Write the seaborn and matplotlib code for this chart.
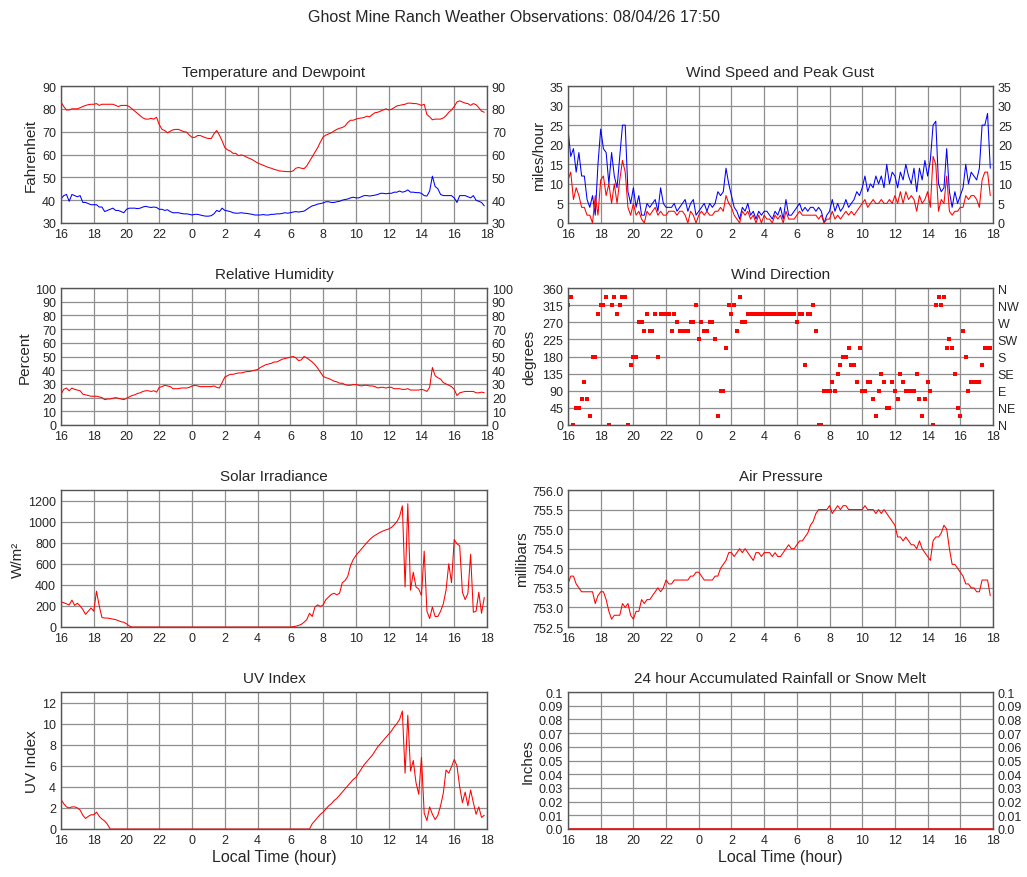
import matplotlib
matplotlib.use('Agg')
import matplotlib.pyplot as plt
import numpy as np
import seaborn as sns

sns.set_theme(style='white')
plt.rcParams['font.family'] = ['Liberation Sans', 'DejaVu Sans']

# 10 minute samples, hours since 16:00
hours = np.arange(156) / 6.0

temp = [
    83, 81, 79.5, 79.5, 80, 80,          # 16
    80, 80.5, 81, 81.5, 81.8, 82,        # 17
    82, 82.3, 81.5, 82, 82, 82,          # 18
    82, 82, 81.5, 81, 81.5, 81.5,        # 19
    81.5, 81, 80, 79, 78, 77,            # 20
    76, 75.5, 75.5, 75.8, 75.5, 76.3,    # 21
    73, 71, 70.5, 69.5, 70.2, 70.8,      # 22
    71, 71, 70.5, 70, 69.8, 68.5,        # 23
    67.5, 67.5, 68.3, 68.3, 67.8, 67.3,  # 0
    67, 67, 69, 70.5, 68.5, 66,          # 1
    63, 62, 61.5, 60.5, 60.5, 59.5,      # 2
    59.8, 59.5, 58.8, 58.3, 57.8, 57,    # 3
    56.3, 55.8, 55.3, 54.8, 54.3, 54,    # 4
    53.5, 53.2, 52.8, 52.7, 52.6, 52.5,  # 5
    52.5, 52.8, 54, 54.3, 54, 53.8,      # 6
    55, 57, 59, 61, 63, 65.5,            # 7
    67.7, 68.5, 69, 69.5, 70.3, 71,      # 8
    71.5, 71.8, 72.5, 74, 75, 75,        # 9
    75.5, 75.8, 76, 76.2, 76.8, 76.5,    # 10
    77.5, 78.3, 78.5, 79, 79.5, 80,      # 11
    79.5, 79.8, 80.5, 81.3, 81.5, 81.8,  # 12
    82, 82.5, 82.5, 82.3, 82.3, 82,      # 13
    81.5, 82, 77.5, 76.5, 75.2, 75.5,    # 14
    75.5, 75.5, 76, 77, 78.5, 79.5,      # 15
    81, 83, 83.5, 83, 82.5, 82.3,        # 16
    81.5, 82.3, 81.8, 80.5, 79, 78.5,    # 17
]

dewpoint = [
    40.5, 42, 42.5, 39.5, 42.5, 42,      # 16
    41.5, 42, 39, 39, 38.5, 38,          # 17
    38, 38, 37, 37, 35, 35.5,            # 18
    36, 36.5, 35.5, 35.5, 35, 34.5,      # 19
    36, 36.5, 36.5, 36.5, 36.3, 36.5,    # 20
    37, 37.3, 37, 36.8, 37, 36.8,        # 21
    36, 36, 35.5, 35.8, 35, 34.5,        # 22
    34.5, 34.5, 34.2, 34, 34, 33.8,      # 23
    33.5, 33.8, 33.8, 33.5, 33.2, 33,    # 0
    33, 33.2, 34, 35.5, 35, 36.5,        # 1
    35.5, 35.3, 35, 34.5, 34.3, 34.3,    # 2
    34.5, 34.3, 34.2, 34, 33.8, 33.5,    # 3
    33.5, 33.5, 33.7, 33.5, 33.5, 33.8,  # 4
    33.8, 34, 34, 34.2, 34.5, 34.3,      # 5
    34.5, 34.8, 35, 34.8, 35, 35.2,      # 6
    36, 36.8, 37.5, 37.8, 38.3, 38.5,    # 7
    38.8, 39.3, 39.3, 39, 39, 39.3,      # 8
    39.5, 40, 40.3, 40.5, 41, 41.3,      # 9
    41, 41, 41.5, 42, 42, 41.8,          # 10
    42, 42.2, 42.5, 43, 43, 42.8,        # 11
    43, 43, 43.5, 43.5, 44, 43.5,        # 12
    43.8, 44.5, 43.5, 43.5, 43.3, 43.3,  # 13
    43, 42, 41.8, 44, 50.5, 46,          # 14
    45, 42.5, 42, 42, 42, 42,            # 15
    41, 39, 42, 42, 42, 41.5,            # 16
    41, 42, 40, 39.5, 39, 37.5,          # 17
]

gust = [
    24, 17, 19, 13, 18, 12,   # 16
    12, 6, 4, 7, 2, 15,       # 17
    24, 19, 18, 10, 18, 12,   # 18
    9, 17, 25, 25, 8, 5,      # 19
    9, 4, 7, 2, 2, 5,         # 20
    4, 5, 6, 3, 9, 5,         # 21
    4, 4, 4, 5, 3, 4,         # 22
    5, 6, 3, 5, 6, 2,         # 23
    3, 4, 5, 3, 5, 4,         # 0
    5, 8, 7, 8, 14, 10,       # 1
    7, 4, 3, 1, 4, 3,         # 2
    5, 2, 3, 1, 3, 2,         # 3
    3, 3, 2, 1, 3, 2,         # 4
    4, 1, 6, 2, 2, 3,         # 5
    4, 5, 3, 4, 3, 4,         # 6
    4, 3, 4, 3, 0, 2,         # 7
    3, 6, 3, 5, 3, 4,         # 8
    6, 4, 5, 6, 8, 7,         # 9
    9, 12, 8, 10, 9, 12,      # 10
    10, 12, 9, 15, 10, 13,    # 11
    12, 9, 13, 11, 15, 12,    # 12
    10, 14, 8, 14, 11, 16,    # 13
    12, 16, 25, 26, 10, 8,    # 14
    9, 19, 8, 4, 8, 5,        # 15
    7, 9, 15, 10, 13, 12,     # 16
    11, 14, 25, 25, 28, 14,   # 17
]

speed = [
    11, 13, 6, 9, 7, 4,       # 16
    4, 2, 2, 0, 7, 2,         # 17
    11, 12, 7, 10, 5, 10,     # 18
    5, 11, 16, 13, 4, 2,      # 19
    5, 2, 3, 1, 0, 3,         # 20
    2, 3, 4, 2, 3, 2,         # 21
    2, 3, 3, 3, 2, 3,         # 22
    3, 2, 0, 3, 2, 0,         # 23
    2, 3, 2, 3, 2, 2,         # 0
    3, 3, 4, 3, 7, 5,         # 1
    4, 2, 1, 0, 3, 2,         # 2
    3, 1, 2, 0, 2, 0,         # 3
    2, 1, 1, 0, 2, 1,         # 4
    2, 0, 3, 1, 1, 1,         # 5
    2, 3, 2, 2, 2, 2,         # 6
    2, 2, 1, 2, 0, 1,         # 7
    1, 3, 1, 2, 1, 2,         # 8
    3, 2, 3, 2, 3, 4,         # 9
    5, 6, 4, 5, 6, 5,         # 10
    5, 6, 5, 5, 6, 5,         # 11
    7, 5, 8, 5, 8, 6,         # 12
    7, 6, 3, 7, 5, 6,         # 13
    8, 4, 17, 15, 3, 6,       # 14
    5, 12, 3, 2, 3, 3,        # 15
    4, 4, 7, 6, 7, 7,         # 16
    6, 4, 11, 13, 13, 7,      # 17
]

humidity = [
    22.5, 26, 27, 25, 27, 26,            # 16
    25.5, 25, 22.5, 22, 21.5, 21,        # 17
    21, 21, 20.5, 20, 18.5, 19,          # 18
    19, 19.5, 20, 19.5, 19, 18.5,        # 19
    19.5, 20.5, 21.5, 22, 23, 23.5,      # 20
    24.5, 25, 25, 24.5, 25, 24,          # 21
    27.5, 28, 29, 28.5, 28, 26.5,        # 22
    26.5, 26.5, 27, 27, 27, 27.5,        # 23
    28.5, 29, 28.5, 28, 28, 28,          # 0
    28, 28, 28.5, 27.5, 27, 31,          # 1
    35, 36, 37, 37, 37.5, 38,            # 2
    38, 38.5, 39, 39, 39.5, 40,          # 3
    40.5, 42, 43, 44, 44.5, 45,          # 4
    46, 46, 47, 48, 48.5, 49,            # 5
    49.5, 50, 49, 47, 47.5, 50,          # 6
    49, 47.5, 46, 44, 41.5, 38.5,        # 7
    35.5, 34.5, 34, 33, 32, 31.5,        # 8
    30.5, 30.5, 29.5, 29, 29, 29.5,      # 9
    29.5, 29, 28.5, 29, 29, 28.5,        # 10
    28.5, 28, 27, 27.5, 27.5, 27,        # 11
    27.5, 27.5, 26.5, 26.5, 26.5, 26,    # 12
    26, 26.5, 25.5, 25.5, 25.5, 25.5,    # 13
    26, 25.5, 24.5, 27.5, 42, 36,        # 14
    34.5, 33.5, 31, 30, 29, 28,          # 15
    26, 21.5, 23.5, 24, 24.5, 24.5,      # 16
    24.5, 24.5, 23.5, 23.5, 24, 23.5,    # 17
]

direction = [
    315, 337.5, 0, 45, 45, 67.5,                 # 16
    112.5, 67.5, 22.5, 180, 180, 292.5,          # 17
    315, 315, 337.5, 0, 315, 337.5,              # 18
    292.5, 315, 337.5, 337.5, 0, 157.5,          # 19
    180, 180, 270, 270, 247.5, 292.5,            # 20
    247.5, 247.5, 292.5, 180, 292.5, 292.5,      # 21
    292.5, 292.5, 247.5, 292.5, 270, 247.5,      # 22
    247.5, 247.5, 247.5, 270, 270, 315,          # 23
    225, 270, 247.5, 247.5, 270, 270,            # 0
    225, 22.5, 90, 90, 202.5, 315,               # 1
    292.5, 315, 247.5, 337.5, 270, 270,          # 2
    292.5, 292.5, 292.5, 292.5, 292.5, 292.5,    # 3
    292.5, 292.5, 292.5, 292.5, 292.5, 292.5,    # 4
    292.5, 292.5, 292.5, 292.5, 292.5, 292.5,    # 5
    270, 292.5, 292.5, 157.5, 292.5, 292.5,      # 6
    315, 247.5, 0, 0, 90, 90,                    # 7
    90, 112.5, 90, 135, 157.5, 180,              # 8
    180, 202.5, 157.5, 157.5, 112.5, 202.5,      # 9
    90, 90, 112.5, 112.5, 67.5, 22.5,            # 10
    90, 135, 112.5, 45, 45, 112.5,               # 11
    90, 67.5, 135, 112.5, 90, 90,                # 12
    90, 90, 135, 67.5, 22.5, 67.5,               # 13
    112.5, 90, 0, 315, 337.5, 315,               # 14
    337.5, 202.5, 225, 202.5, 135, 45,           # 15
    22.5, 247.5, 180, 90, 112.5, 112.5,          # 16
    112.5, 112.5, 157.5, 202.5, 202.5, 202.5,    # 17
]

solar = [
    240, 230, 220, 210, 255, 205,        # 16
    225, 200, 165, 120, 150, 180,        # 17
    150, 340, 200, 90, 85, 85,           # 18
    80, 75, 70, 60, 50, 45,              # 19
    30, 10, 0, 0, 0, 0,                  # 20
    0, 0, 0, 0, 0, 0,                    # 21
    0, 0, 0, 0, 0, 0,                    # 22
    0, 0, 0, 0, 0, 0,                    # 23
    0, 0, 0, 0, 0, 0,                    # 0
    0, 0, 0, 0, 0, 0,                    # 1
    0, 0, 0, 0, 0, 0,                    # 2
    0, 0, 0, 0, 0, 0,                    # 3
    0, 0, 0, 0, 0, 0,                    # 4
    0, 0, 0, 0, 0, 0,                    # 5
    0, 3, 8, 15, 25, 45,                 # 6
    70, 130, 100, 190, 210, 195,         # 7
    210, 260, 285, 310, 320, 305,        # 8
    320, 420, 440, 480, 580, 640,        # 9
    679, 710, 740, 770, 800, 828,        # 10
    852, 870, 885, 900, 912, 922,        # 11
    930, 945, 970, 1000, 1050, 1150,     # 12
    380, 1170, 350, 520, 380, 360,       # 13
    300, 720, 150, 80, 190, 100,         # 14
    100, 150, 220, 350, 600, 420,        # 15
    830, 790, 770, 330, 260, 320,        # 16
    690, 140, 150, 330, 130, 280,        # 17
]

pressure = [
    753.6, 753.8, 753.8, 753.6, 753.5, 753.4,   # 16
    753.4, 753.4, 753.4, 753.4, 753.1, 753.3,   # 17
    753.4, 753.4, 753.2, 752.9, 752.7, 752.8,   # 18
    752.8, 752.8, 753.1, 753.0, 753.1, 752.8,   # 19
    752.7, 752.9, 752.9, 753.2, 753.1, 753.2,   # 20
    753.2, 753.3, 753.4, 753.5, 753.4, 753.5,   # 21
    753.7, 753.6, 753.6, 753.7, 753.7, 753.7,   # 22
    753.7, 753.7, 753.7, 753.8, 753.8, 753.9,   # 23
    753.9, 753.8, 753.7, 753.7, 753.7, 753.7,   # 0
    753.8, 753.8, 754.0, 754.1, 754.2, 754.4,   # 1
    754.4, 754.3, 754.4, 754.5, 754.4, 754.5,   # 2
    754.4, 754.3, 754.2, 754.4, 754.4, 754.3,   # 3
    754.4, 754.4, 754.4, 754.3, 754.4, 754.3,   # 4
    754.3, 754.4, 754.5, 754.6, 754.5, 754.5,   # 5
    754.6, 754.7, 754.7, 754.8, 754.9, 755.1,   # 6
    755.2, 755.4, 755.5, 755.5, 755.5, 755.5,   # 7
    755.6, 755.4, 755.5, 755.6, 755.5, 755.6,   # 8
    755.6, 755.5, 755.5, 755.5, 755.5, 755.5,   # 9
    755.5, 755.6, 755.5, 755.5, 755.5, 755.4,   # 10
    755.5, 755.4, 755.5, 755.4, 755.3, 755.2,   # 11
    755.1, 754.8, 754.8, 754.7, 754.8, 754.7,   # 12
    754.6, 754.6, 754.5, 754.7, 754.5, 754.4,   # 13
    754.3, 754.2, 754.7, 754.8, 754.8, 754.9,   # 14
    755.1, 755.0, 754.5, 754.1, 754.1, 754.0,   # 15
    753.9, 753.8, 753.6, 753.6, 753.5, 753.5,   # 16
    753.4, 753.4, 753.7, 753.7, 753.7, 753.3,   # 17
]

uv = [
    2.8, 2.4, 2.1, 2.0, 2.1, 2.1,        # 16
    2.0, 1.8, 1.3, 1.0, 1.2, 1.35,       # 17
    1.35, 1.6, 1.2, 0.95, 0.75, 0.45,    # 18
    0, 0, 0, 0, 0, 0,                    # 19
    0, 0, 0, 0, 0, 0,                    # 20
    0, 0, 0, 0, 0, 0,                    # 21
    0, 0, 0, 0, 0, 0,                    # 22
    0, 0, 0, 0, 0, 0,                    # 23
    0, 0, 0, 0, 0, 0,                    # 0
    0, 0, 0, 0, 0, 0,                    # 1
    0, 0, 0, 0, 0, 0,                    # 2
    0, 0, 0, 0, 0, 0,                    # 3
    0, 0, 0, 0, 0, 0,                    # 4
    0, 0, 0, 0, 0, 0,                    # 5
    0, 0, 0, 0, 0, 0,                    # 6
    0, 0, 0.5, 0.8, 1.1, 1.4,            # 7
    1.6, 1.9, 2.2, 2.4, 2.7, 2.9,        # 8
    3.2, 3.5, 3.8, 4.1, 4.4, 4.7,        # 9
    4.9, 5.3, 5.7, 6.1, 6.4, 6.7,        # 10
    7.0, 7.4, 7.8, 8.1, 8.4, 8.7,        # 11
    9.0, 9.3, 9.7, 10.0, 10.4, 11.2,     # 12
    5.3, 10.8, 5.5, 6.5, 4.4, 3.3,       # 13
    6.8, 1.5, 0.8, 2.1, 1.4, 0.9,        # 14
    1.3, 2.2, 3.4, 5.6, 5.3, 5.9,        # 15
    6.6, 6.0, 4.0, 2.5, 3.5, 2.2,        # 16
    3.7, 2.5, 1.4, 2.1, 1.1, 1.3,        # 17
]

rain_hours = [0.0, 26.0]
rain = [0.0, 0.0]

hour_ticks = list(range(0, 27, 2))
hour_labels = [str((16 + t) % 24) for t in hour_ticks]
compass = ['N', 'NE', 'E', 'SE', 'S', 'SW', 'W', 'NW', 'N']
rain_labels = ['0.0', '0.01', '0.02', '0.03', '0.04', '0.05',
               '0.06', '0.07', '0.08', '0.09', '0.1']

RED = '#ff0000'
BLUE = '#0000ff'
LW = 0.75
tick_size = 9
title_size = 11

fig = plt.figure(figsize=(10.27, 8.78), dpi=100)
fig.text(0.5, 1 - 18 / 878, 'Ghost Mine Ranch Weather Observations: 08/04/26 17:50',
         ha='center', va='center', fontsize=11.5)

row_tops = [87, 289, 491, 693]


def make_ax(col, row):
    x0 = 61 / 1027 if col == 0 else 568 / 1027
    w = 426 / 1027 if col == 0 else 425 / 1027
    y0 = 1 - (row_tops[row] + 137) / 878
    return fig.add_axes([x0, y0, w, 137 / 878])


def style(ax, title, ylabel, ylim, yticks, label_x, right=True, yticklabels=None):
    ax.set_xlim(0, 26)
    ax.set_ylim(*ylim)
    ax.set_xticks(hour_ticks)
    ax.set_xticklabels(hour_labels)
    ax.set_yticks(yticks)
    if yticklabels is not None:
        ax.set_yticklabels(yticklabels)
    ax.grid(True, color='#8f8f8f', linewidth=0.9)
    ax.set_axisbelow(True)
    for s in ax.spines.values():
        s.set_color('#555555')
        s.set_linewidth(1)
    ax.tick_params(length=0, labelsize=tick_size, pad=3.5, labelright=right)
    ax.set_title(title, fontsize=title_size, pad=7)
    ax.set_ylabel(ylabel, fontsize=title_size, va='center')
    ax.yaxis.set_label_coords(label_x, 0.5)


# Temperature and dewpoint
ax = make_ax(0, 0)
sns.lineplot(x=hours, y=temp, ax=ax, color=RED, linewidth=LW)
sns.lineplot(x=hours, y=dewpoint, ax=ax, color=BLUE, linewidth=LW)
style(ax, 'Temperature and Dewpoint', 'Fahrenheit', (30, 90), range(30, 91, 10), -0.07)

# Wind speed and gust
ax = make_ax(1, 0)
sns.lineplot(x=hours, y=gust, ax=ax, color=BLUE, linewidth=LW)
sns.lineplot(x=hours, y=speed, ax=ax, color=RED, linewidth=LW)
style(ax, 'Wind Speed and Peak Gust', 'miles/hour', (0, 35), range(0, 36, 5), -0.068)

# Relative humidity
ax = make_ax(0, 1)
sns.lineplot(x=hours, y=humidity, ax=ax, color=RED, linewidth=LW)
style(ax, 'Relative Humidity', 'Percent', (0, 100), range(0, 101, 10), -0.085)

# Wind direction
ax = make_ax(1, 1)
sns.scatterplot(x=hours, y=direction, ax=ax, color=RED, marker='s', s=11, linewidth=0)
style(ax, 'Wind Direction', 'degrees', (0, 360), range(0, 361, 45), -0.092, right=False)
ax2 = ax.twinx()
ax2.set_ylim(0, 360)
ax2.set_yticks(range(0, 361, 45))
ax2.set_yticklabels(compass)
ax2.tick_params(length=0, labelsize=tick_size, pad=3.5)
ax2.grid(False)
for s in ax2.spines.values():
    s.set_visible(False)

# Solar irradiance
ax = make_ax(0, 2)
sns.lineplot(x=hours, y=solar, ax=ax, color=RED, linewidth=LW)
style(ax, 'Solar Irradiance', 'W/m²', (0, 1300), range(0, 1201, 200), -0.1, right=False)

# Air pressure
ax = make_ax(1, 2)
sns.lineplot(x=hours, y=pressure, ax=ax, color=RED, linewidth=LW)
style(ax, 'Air Pressure', 'millibars', (752.5, 756.0), np.arange(752.5, 756.01, 0.5), -0.108,
      right=False, yticklabels=['752.5', '753.0', '753.5', '754.0', '754.5', '755.0', '755.5', '756.0'])

# UV index
ax = make_ax(0, 3)
sns.lineplot(x=hours, y=uv, ax=ax, color=RED, linewidth=LW)
style(ax, 'UV Index', 'UV Index', (0, 13), range(0, 13, 2), -0.068, right=False)
ax.set_xlabel('Local Time (hour)', fontsize=11.5, labelpad=2)

# Rainfall
ax = make_ax(1, 3)
sns.lineplot(x=rain_hours, y=rain, ax=ax, color=RED, linewidth=1.2)
style(ax, '24 hour Accumulated Rainfall or Snow Melt', 'Inches', (0, 0.1),
      np.linspace(0, 0.1, 11), -0.094, yticklabels=rain_labels)
ax.set_xlabel('Local Time (hour)', fontsize=11.5, labelpad=2)

fig.savefig('out.png', dpi=100)
